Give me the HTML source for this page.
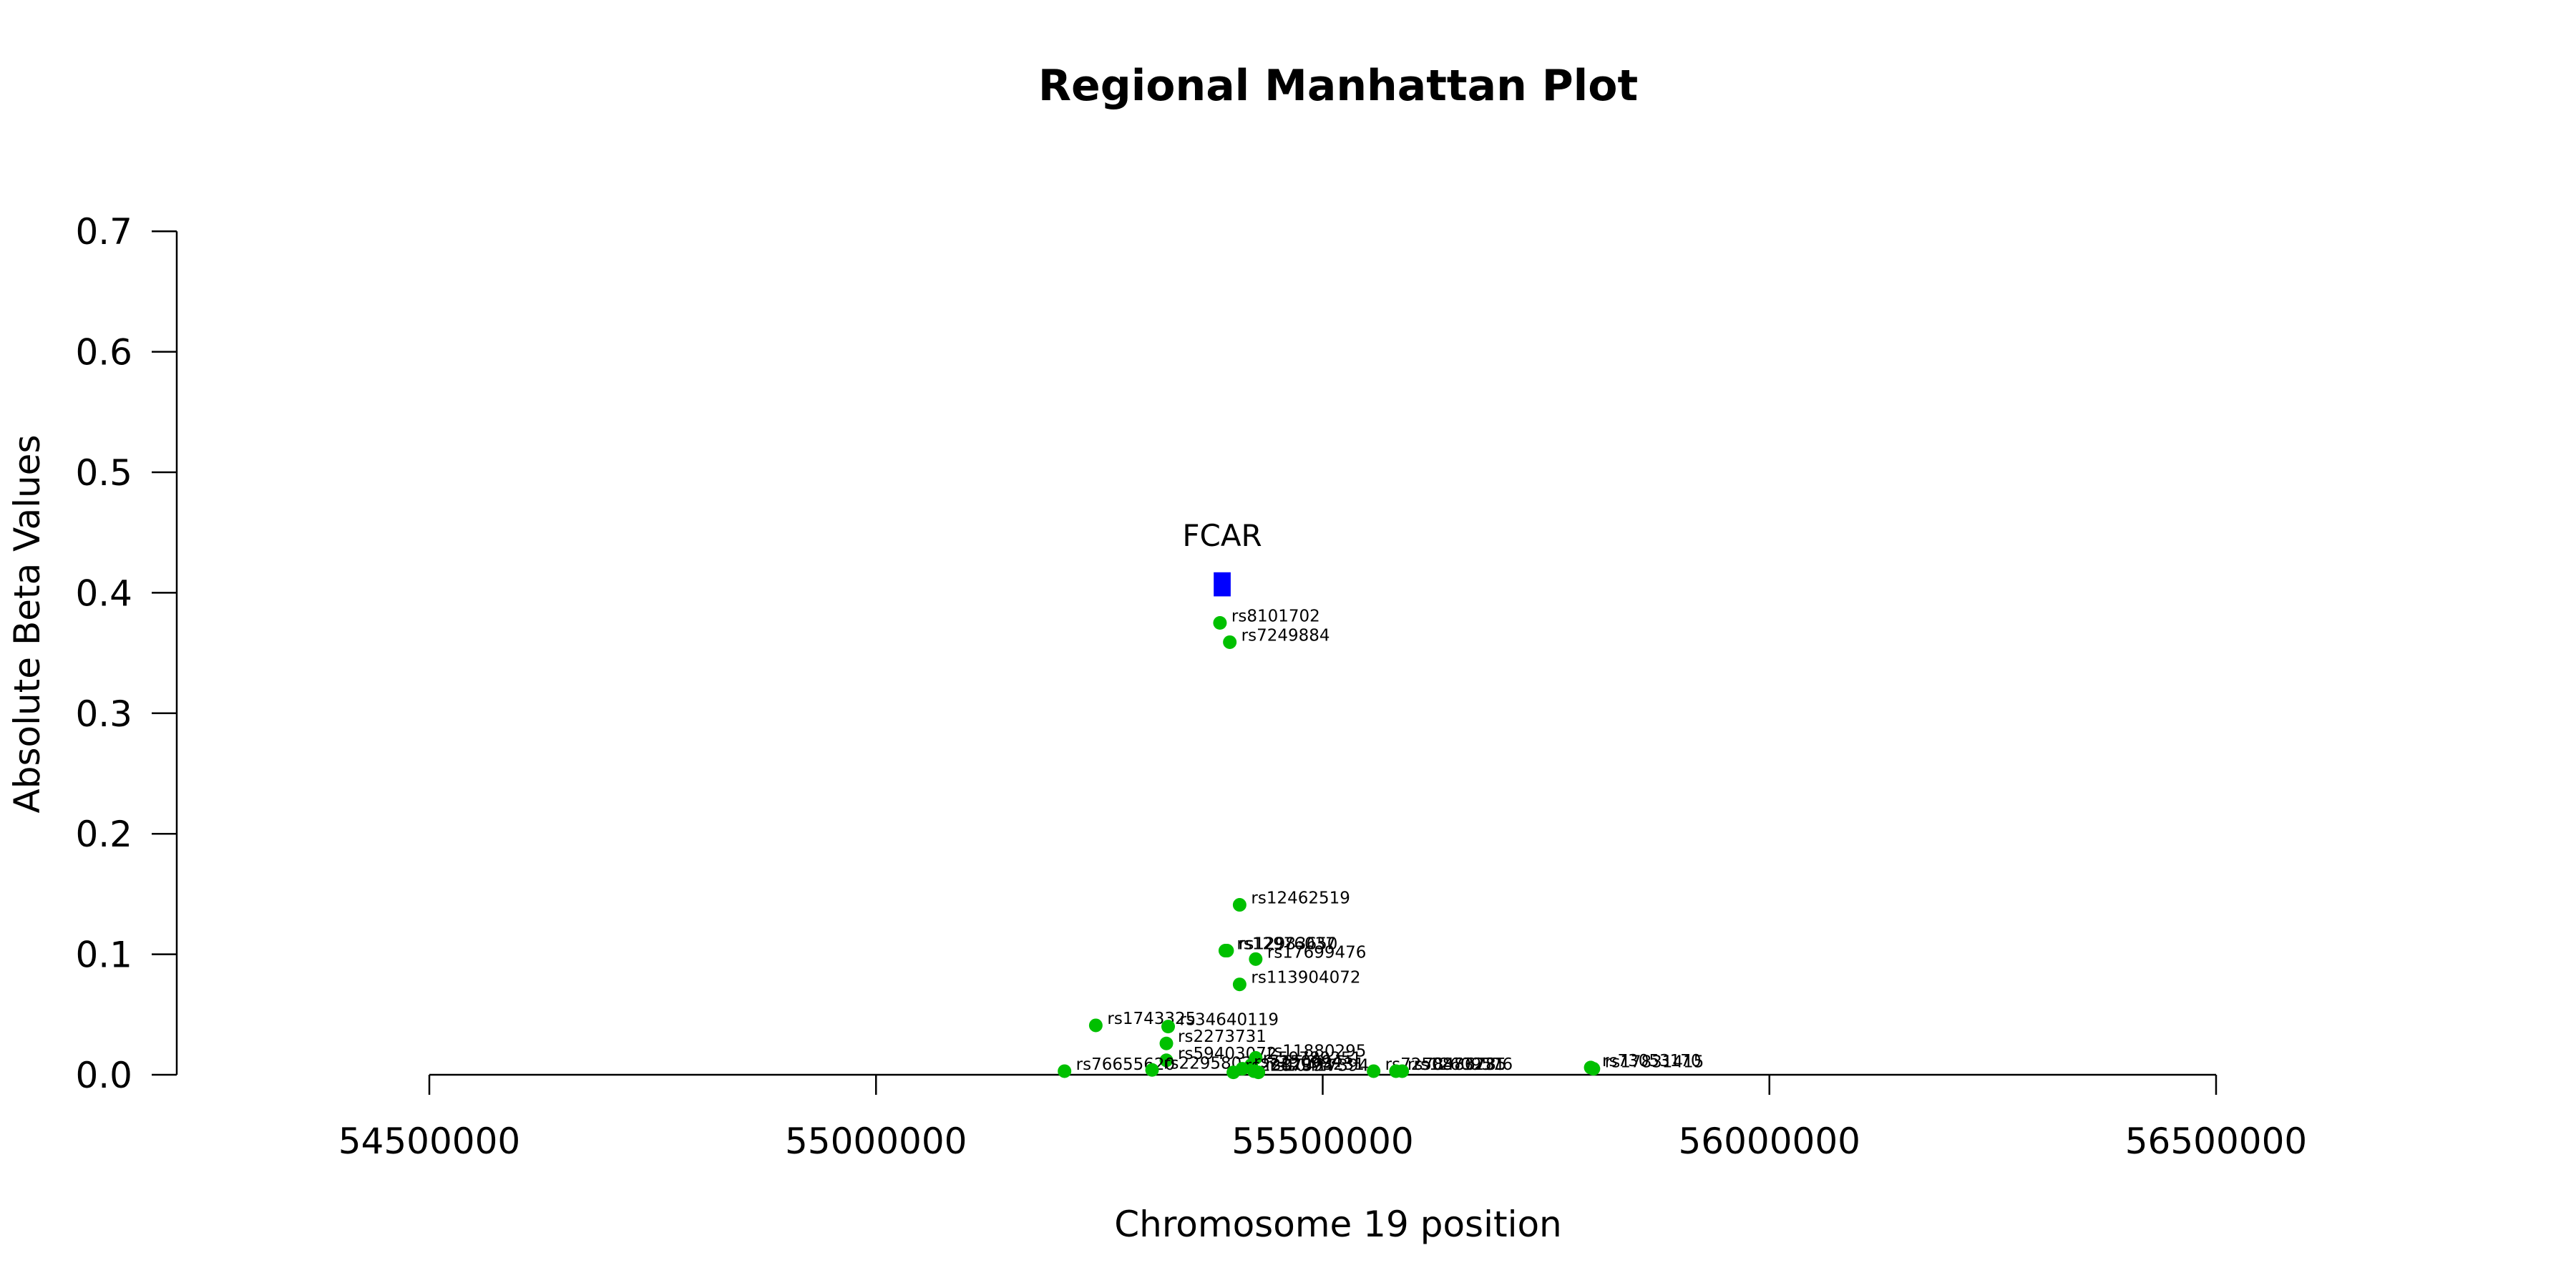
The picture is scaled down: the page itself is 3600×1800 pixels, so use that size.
<!DOCTYPE html>
<html><head><meta charset="utf-8"><style>
html,body{margin:0;padding:0;background:#fff;}
svg{display:block;font-family:"DejaVu Sans","Liberation Sans",sans-serif;}
</style></head><body>
<svg id="chart" width="3600" height="1800" viewBox="0 0 3600 1800">
<text x="1870" y="140" text-anchor="middle" font-size="60" font-weight="bold">Regional Manhattan Plot</text>
<text x="1870" y="1728" text-anchor="middle" font-size="50">Chromosome 19 position</text>
<text transform="translate(55,872) rotate(-90)" text-anchor="middle" font-size="50">Absolute Beta Values</text>
<g id="axes"></g>
<g id="marks"></g>
</svg>
<script>
const xTicks=[54500000,55000000,55500000,56000000,56500000];
const yTicks=[0,0.1,0.2,0.3,0.4,0.5,0.6,0.7];
const snpNames=["rs8101702","rs7249884","rs12462519","rs12976037","rs12983650","rs17699476","rs113904072","rs1743325","rs34640119","rs2273731","rs59403072","rs76655620","rs2295802","rs11880295","rs59789251","rs2287394","rs7250994","rs12973231","rs10417394","rs7250873231","rs78486785","rs12609576","rs73053170","rs17831415"];
const snpPos=[55385000,55396000,55407000,55391000,55393000,55425000,55407000,55246000,55327000,55325000,55325000,55211000,55309000,55425000,55420000,55400000,55410000,55423000,55428000,55557000,55582000,55589000,55800000,55803000];
const snpBeta=[0.375,0.359,0.141,0.103,0.103,0.096,0.075,0.041,0.040,0.026,0.012,0.003,0.004,0.014,0.008,0.002,0.005,0.003,0.002,0.003,0.003,0.003,0.006,0.005];
const geneNames=["FCAR"];
const geneStart=[55378000];
const geneEnd=[55397000];
const geneBetaTop=[0.417];
const geneBetaBottom=[0.397];

const NS="http://www.w3.org/2000/svg";
function X(v){return 600+(v-54500000)*(2497/2000000);}
function Y(b){return 1502-b*1684;}
function mk(tag,attrs,parent,txt){const e=document.createElementNS(NS,tag);for(const k in attrs)e.setAttribute(k,attrs[k]);if(txt!==undefined)e.textContent=txt;parent.appendChild(e);return e;}
const axes=document.getElementById('axes'),marks=document.getElementById('marks');

let l=mk('line',{x1:X(xTicks[0]),x2:X(xTicks[xTicks.length-1]),y1:1502,y2:1502,stroke:'#000','stroke-width':2.5},axes);


xTicks.forEach(t=>{
 const tk=mk('line',{x1:X(t),x2:X(t),y1:1502,y2:1530,stroke:'#000','stroke-width':2.5},axes);
 
 
 const tl=mk('text',{x:X(t),y:1612,'text-anchor':'middle','font-size':50},axes,String(t));
 
 
});
let yl=mk('line',{x1:247,x2:247,y1:Y(0),y2:Y(0.7),stroke:'#000','stroke-width':2.5},axes);


yTicks.forEach(t=>{
 const tk=mk('line',{x1:212,x2:247,y1:Y(t),y2:Y(t),stroke:'#000','stroke-width':2.5},axes);
 
 
 const tl=mk('text',{x:185,y:Y(t)+18,'text-anchor':'end','font-size':50},axes,t.toFixed(1));
 
 
});
geneNames.forEach((g,i)=>{
 const r=mk('rect',{x:X(geneStart[i]),y:Y(geneBetaTop[i]),width:X(geneEnd[i])-X(geneStart[i]),height:Y(geneBetaBottom[i])-Y(geneBetaTop[i]),fill:'#0000ff'},marks);
 
 
 const t=mk('text',{x:(X(geneStart[i])+X(geneEnd[i]))/2,y:Y(geneBetaTop[i])-37,'text-anchor':'middle','font-size':42},marks,g);
 
 
});
snpNames.forEach((n,i)=>{
 const c=mk('circle',{cx:X(snpPos[i]),cy:Y(snpBeta[i]),r:9.5,fill:'#00c000'},marks);
 
 
 const t=mk('text',{x:X(snpPos[i])+16,y:Y(snpBeta[i])-2,'font-size':23},marks,n);
 
 
});
</script>
</body></html>
